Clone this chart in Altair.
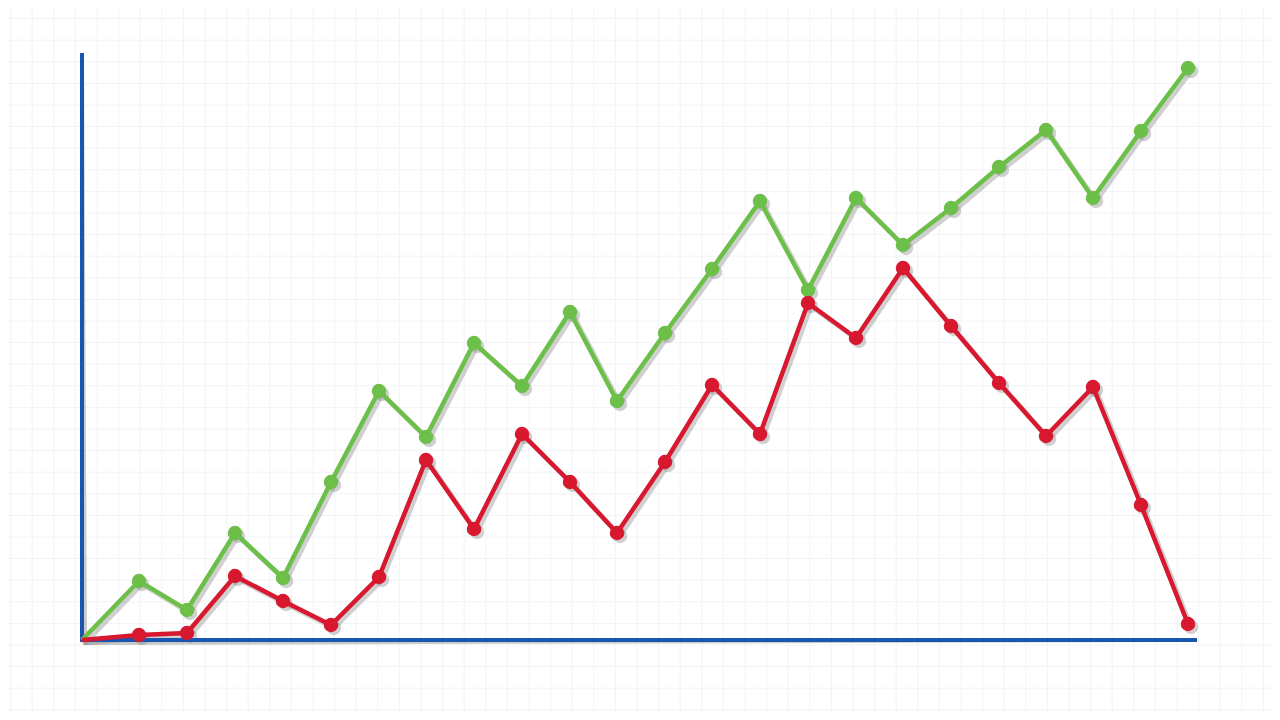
"""Two zig-zag line series on a faint paper grid, blue L-shaped axes"""

import altair as alt
import numpy as np
import pandas as pd

# Data (x = distance from the left axis, y = height above the baseline)
x_pos = [0, 57, 105, 153, 201, 249, 297, 344, 392, 440, 488, 535,
         583, 630, 678, 726, 774, 821, 869, 917, 964, 1011, 1059, 1106]
green_vals = [0, 59, 30, 107, 62, 158, 249, 203, 297, 254, 328, 239,
              307, 371, 439, 350, 442, 395, 432, 473, 510, 442, 509, 572]
red_vals = [0, 5, 7, 64, 39, 15, 63, 180, 111, 206, 158, 107,
            178, 255, 206, 337, 302, 372, 314, 257, 204, 253, 135, 16]

# Configuration:
plot_w, plot_h = 1113, 585
x_max = 1113
y_max = 585
green = "#6cc04a"
red = "#d7182f"
blue = "#1a56b0"
shadow = "#8a8a8a"
grid_color = "#f2f3f7"

df = pd.concat([
    pd.DataFrame({"xpos": x_pos, "value": green_vals, "series": "green"}),
    pd.DataFrame({"xpos": x_pos, "value": red_vals, "series": "red"}),
])
pts = df[df["xpos"] > 0]

x_sc = alt.Scale(domain=[0, x_max], nice=False, zero=False)
y_sc = alt.Scale(domain=[0, y_max], nice=False, zero=False)
x_enc = alt.X("xpos:Q", scale=x_sc, axis=None)
y_enc = alt.Y("value:Q", scale=y_sc, axis=None)

# faint paper grid, in page pixels
grid_x = pd.DataFrame({"px": np.arange(-11.0, 1300, 21.6)})
grid_y = pd.DataFrame({"py": np.arange(-3.0, 730, 21.6)})
page_x = alt.Scale(domain=[82, 82 + plot_w], nice=False, zero=False)
page_y = alt.Scale(domain=[55, 55 + plot_h], nice=False, zero=False, reverse=True)

vgrid = alt.Chart(grid_x).mark_rule(color=grid_color, strokeWidth=1).encode(
    x=alt.X("px:Q", scale=page_x, axis=None),
    y=alt.value(-60),
    y2=alt.value(plot_h + 90),
)
hgrid = alt.Chart(grid_y).mark_rule(color=grid_color, strokeWidth=1).encode(
    y=alt.Y("py:Q", scale=page_y, axis=None),
    x=alt.value(-90),
    x2=alt.value(plot_w + 100),
)
grid = alt.layer(vgrid, hgrid).resolve_scale(x="independent", y="independent")

# blue axes + their shadows
axes_df = pd.DataFrame({"x0": [0, 0], "x1": [0, x_max], "y0": [0, 0], "y1": [y_max, 0]})
axis_shadow = alt.Chart(axes_df).mark_rule(
    color=shadow, strokeWidth=4, opacity=0.45, xOffset=3, yOffset=3, strokeCap="square"
).encode(
    x=alt.X("x0:Q", scale=x_sc, axis=None), x2="x1:Q",
    y=alt.Y("y0:Q", scale=y_sc, axis=None), y2="y1:Q",
)
axis_lines = alt.Chart(axes_df).mark_rule(color=blue, strokeWidth=4, strokeCap="square").encode(
    x=alt.X("x0:Q", scale=x_sc, axis=None), x2="x1:Q",
    y=alt.Y("y0:Q", scale=y_sc, axis=None), y2="y1:Q",
)

colors = alt.Color("series:N", scale=alt.Scale(domain=["green", "red"], range=[green, red]), legend=None)

line_shadow = alt.Chart(df).mark_line(
    color=shadow, strokeWidth=5, opacity=0.4, xOffset=3, yOffset=3
).encode(x=x_enc, y=y_enc, detail="series:N")
dot_shadow = alt.Chart(pts).mark_circle(
    color=shadow, size=210, opacity=0.4, xOffset=3, yOffset=3
).encode(x=x_enc, y=y_enc)

lines = alt.Chart(df).mark_line(strokeWidth=4.5).encode(x=x_enc, y=y_enc, color=colors)
dots = alt.Chart(pts).mark_circle(size=210, opacity=1).encode(x=x_enc, y=y_enc, color=colors)

chart = alt.layer(
    grid,
    axis_shadow,
    line_shadow,
    dot_shadow,
    axis_lines,
    lines,
    dots,
).resolve_scale(
    x="independent", y="independent"
).properties(
    width=plot_w,
    height=plot_h,
    padding={"left": 74, "top": 47, "right": 77, "bottom": 72},
    autosize=alt.AutoSizeParams(type="none"),
    background="white",
).configure_view(
    stroke=None
)

chart.save("out.html", embed_options={"renderer": "svg", "actions": False})
